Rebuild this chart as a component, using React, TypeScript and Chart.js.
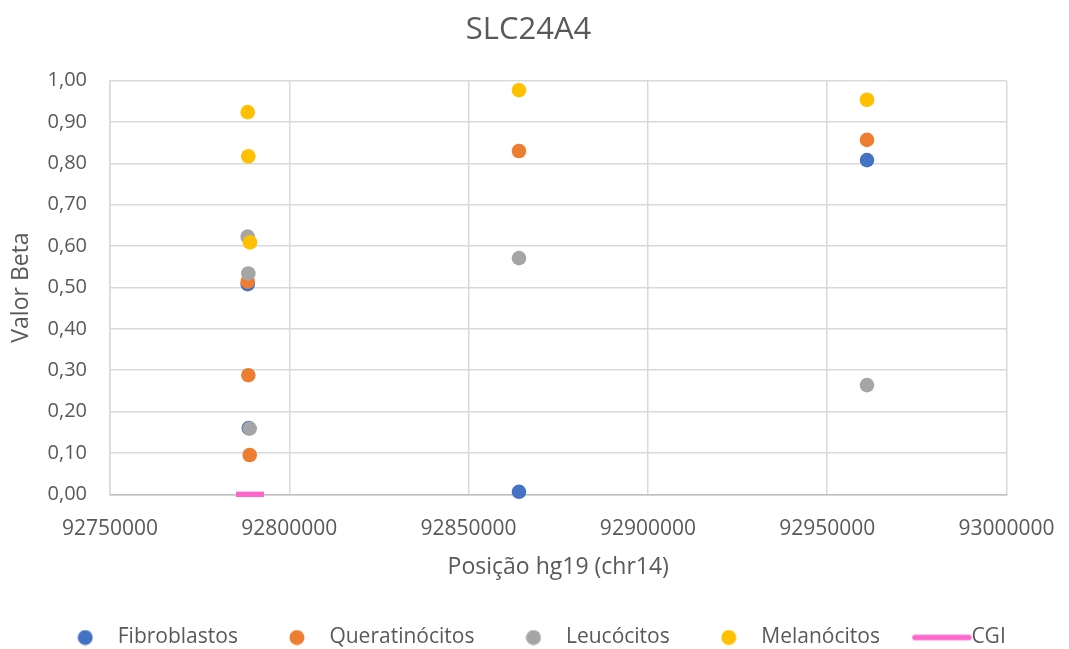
import { useEffect, useRef } from 'react';
import { Chart, registerables } from 'chart.js';

Chart.register(...registerables);

const FONT = "'Open Sans', sans-serif";
const TEXT_COLOR = '#595959';

const chartTitle = 'SLC24A4';
const xAxisTitle = 'Posição hg19 (chr14)';
const yAxisTitle = 'Valor Beta';

const xMin = 92750000;
const xMax = 93000000;
const xStep = 50000;
const yMin = 0;
const yMax = 1;
const yStep = 0.1;

const seriesNames = ['Fibroblastos', 'Queratinócitos', 'Leucócitos', 'Melanócitos', 'CGI'];
const seriesColors = ['#4472C4', '#ED7D31', '#A5A5A5', '#FFC000', '#FF66CC'];

// CpG positions (hg19, chr14) and beta values per cell type
const fibroblastosPos = [92788400, 92788680, 92864050, 92961100];
const fibroblastosBeta = [0.508, 0.16, 0.006, 0.808];

const queratinocitosPos = [92788400, 92788570, 92788960, 92864050, 92961100];
const queratinocitosBeta = [0.514, 0.288, 0.095, 0.83, 0.857];

const leucocitosPos = [92788400, 92788570, 92788960, 92864050, 92961100];
const leucocitosBeta = [0.623, 0.534, 0.159, 0.571, 0.264];

const melanocitosPos = [92788400, 92788570, 92789040, 92864050, 92961100];
const melanocitosBeta = [0.924, 0.817, 0.609, 0.977, 0.954];

// CpG island extent, drawn on the baseline
const cgiPos = [92785140, 92792940];
const cgiBeta = [0, 0];

const toPoints = (xs: number[], ys: number[]) => xs.map((x, i) => ({ x, y: ys[i] }));

function dotIcon(color: string) {
  const c = document.createElement('canvas');
  c.width = 16;
  c.height = 16;
  const g = c.getContext('2d')!;
  g.fillStyle = color;
  g.beginPath();
  g.arc(8, 8, 7.5, 0, Math.PI * 2);
  g.fill();
  return c;
}

function lineIcon(color: string) {
  const c = document.createElement('canvas');
  c.width = 70;
  c.height = 8;
  const g = c.getContext('2d')!;
  g.strokeStyle = color;
  g.lineWidth = 5.5;
  g.lineCap = 'round';
  g.beginPath();
  g.moveTo(11, 4);
  g.lineTo(65, 4);
  g.stroke();
  return c;
}

export default function App() {
  const canvasRef = useRef<HTMLCanvasElement | null>(null);

  useEffect(() => {
    const canvas = canvasRef.current;
    if (!canvas) return;

    const icons = [
      dotIcon(seriesColors[0]),
      dotIcon(seriesColors[1]),
      dotIcon(seriesColors[2]),
      dotIcon(seriesColors[3]),
      lineIcon(seriesColors[4]),
    ];

    const scatterSet = (i: number, xs: number[], ys: number[]) => ({
      label: seriesNames[i],
      data: toPoints(xs, ys),
      backgroundColor: seriesColors[i],
      borderColor: seriesColors[i],
      borderWidth: 0,
      pointRadius: 7.3,
      pointHoverRadius: 7.3,
      clip: false as const,
      order: 5 - i,
    });

    // Legend in one row centred on the canvas; title centred slightly left of it
    const boxLayout = {
      id: 'boxLayout',
      beforeInit(chart: any) {
        const legend = chart.legend;
        const originalFit = legend.fit;
        legend.fit = function fit() {
          this.maxWidth = Math.max(this.maxWidth, chart.width);
          originalFit.bind(legend)();
          this.height = 59;
        };
      },
      afterLayout(chart: any) {
        const legend = chart.legend;
        legend.left = 0;
        legend.right = chart.width;
        legend.width = chart.width;
        const title = chart.titleBlock;
        if (title) {
          title.left = 0;
          title.right = 1057;
          title.width = 1057;
        }
      },
    };

    const chart = new Chart(canvas, {
      type: 'scatter',
      data: {
        datasets: [
          scatterSet(0, fibroblastosPos, fibroblastosBeta),
          scatterSet(1, queratinocitosPos, queratinocitosBeta),
          scatterSet(2, leucocitosPos, leucocitosBeta),
          scatterSet(3, melanocitosPos, melanocitosBeta),
          {
            label: seriesNames[4],
            data: toPoints(cgiPos, cgiBeta),
            showLine: true,
            borderColor: seriesColors[4],
            backgroundColor: seriesColors[4],
            borderWidth: 5.4,
            pointRadius: 0,
            pointHoverRadius: 0,
            clip: false as const,
            order: 0,
          } as any,
        ],
      },
      options: {
        responsive: false,
        animation: false,
        layout: { padding: { left: 0, right: 62.5, top: 0, bottom: 0 } },
        scales: {
          x: {
            type: 'linear',
            min: xMin,
            max: xMax,
            afterFit: (scale: any) => {
              scale.height = 95.7;
              scale.paddingLeft = 0;
              scale.paddingRight = 0;
            },
            ticks: {
              stepSize: xStep,
              padding: 22,
              color: TEXT_COLOR,
              font: { family: FONT, size: 21 },
              maxRotation: 0,
              callback: (v: any) => String(v),
            },
            grid: { color: '#D9D9D9', lineWidth: 1.5, drawTicks: false },
            border: { color: '#BFBFBF', width: 1.5 },
            title: {
              display: true,
              text: xAxisTitle,
              color: TEXT_COLOR,
              font: { family: FONT, size: 23 },
              padding: { top: 0, bottom: 9 },
            },
          },
          y: {
            type: 'linear',
            min: yMin,
            max: yMax,
            afterFit: (scale: any) => {
              scale.width = 110;
            },
            ticks: {
              stepSize: yStep,
              padding: 23,
              color: TEXT_COLOR,
              font: { family: FONT, size: 20 },
              callback: (v: any) => Number(v).toFixed(2).replace('.', ','),
            },
            grid: { color: '#D9D9D9', lineWidth: 1.5, drawTicks: false },
            border: { color: '#D9D9D9', width: 1.5 },
            title: {
              display: true,
              text: yAxisTitle,
              color: TEXT_COLOR,
              font: { family: FONT, size: 23 },
              padding: { top: 8, bottom: 0 },
            },
          },
        },
        plugins: {
          title: {
            display: true,
            text: chartTitle,
            color: TEXT_COLOR,
            font: { family: FONT, size: 31, weight: 'normal' },
            padding: { top: 11.4, bottom: 32.1 },
          },
          legend: {
            position: 'bottom',
            labels: {
              usePointStyle: true,
              pointStyleWidth: 44,
              boxHeight: 16,
              padding: 37,
              color: TEXT_COLOR,
              font: { family: FONT, size: 21 },
              sort: (a: any, b: any) => a.datasetIndex - b.datasetIndex,
              generateLabels: (c: any) => {
                const items = (Chart.defaults.plugins.legend.labels as any).generateLabels(c);
                return items.map((it: any) => ({ ...it, pointStyle: icons[it.datasetIndex] }));
              },
            },
          },
          tooltip: { enabled: false },
        },
      },
      plugins: [boxLayout],
    } as any);

    return () => chart.destroy();
  }, []);

  return (
    <div style={{ position: 'absolute', left: 0, top: 0, width: 1069, height: 649, background: '#fff' }}>
      <canvas ref={canvasRef} width={1069} height={649} style={{ display: 'block' }} />
    </div>
  );
}
